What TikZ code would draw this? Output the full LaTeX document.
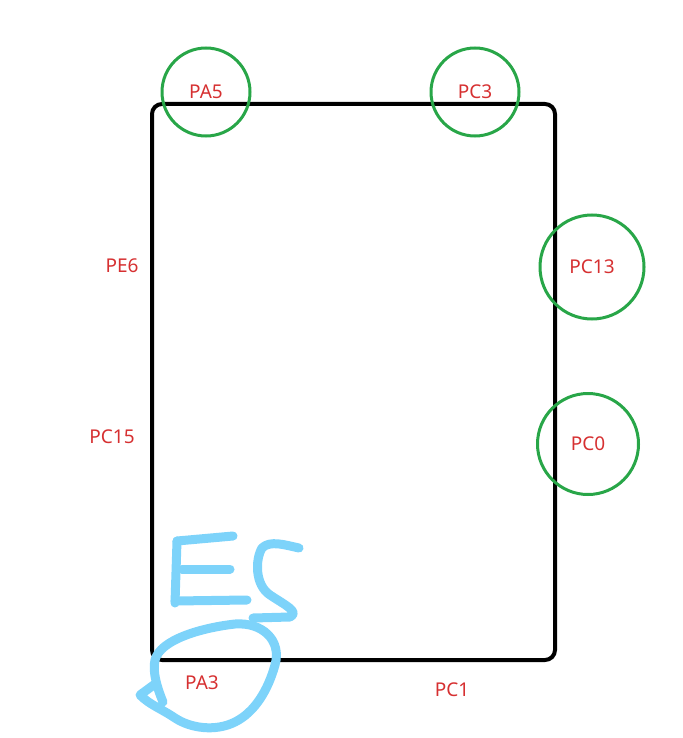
\documentclass[tikz,border=0pt]{standalone}
\usepackage{fontspec}
\setmainfont{Noto Sans}
\usetikzlibrary{positioning}
\definecolor{pinred}{RGB}{214,48,49}
\definecolor{ringgreen}{RGB}{40,166,72}
\definecolor{inkblue}{RGB}{125,211,250}
\begin{document}
\begin{tikzpicture}[x=1pt,y=-1pt]
        \tikzset{
            pin/.style={text=pinred, font=\fontsize{19}{21}\selectfont, inner sep=0pt},
            ring/.style={pin, circle, draw=ringgreen, line width=3pt, minimum size=#1},
            ring/.default=88,
            board/.style={line width=4pt, rounded corners=10pt},
            ink/.style={inkblue, line width=9pt, line cap=round, line join=round}
        }
        \useasboundingbox (0,0) rectangle (682,738);
        \draw[board] (152,104) rectangle (555,660);
        \node[ring] (PA5) at (206,92) {PA5};
        \node[ring] (PC3) at (475,92) {PC3};
        \node[ring=104] (PC13) at (592,267) {PC13};
        \node[ring=101] (PC0) at (588,444) {PC0};
        \node[pin] (PE6) at (122,266) {PE6};
        \node[pin] (PC15) at (112,437) {PC15};
        \node[pin] (PA3) at (202,683) {PA3};
        \node[pin] (PC1) at (452,690) {PC1};
        % scribbled mark
        \draw[ink] (177,541) -- (233,536);
        \draw[ink] (177,541) -- (175,603);
        \draw[ink] (182,569) -- (230,569);
        \draw[ink] (175,601) -- (247,600);
        \draw[ink] (299,548) .. controls (285,545) and (270,540) .. (262,548)
            .. controls (255,560) and (255,585) .. (270,595)
            .. controls (285,605) and (300,612) .. (290,617) -- (253,618);
        \draw[ink] (163,702) .. controls (158,690) and (152,672) .. (155,660)
            .. controls (160,640) and (200,628) .. (235,624)
            .. controls (262,622) and (282,640) .. (275,665)
            .. controls (268,690) and (255,712) .. (235,722)
            .. controls (215,732) and (190,728) .. (175,718)
            .. controls (160,708) and (150,705) .. (140,695)
            -- (155,684);
\end{tikzpicture}
\end{document}
